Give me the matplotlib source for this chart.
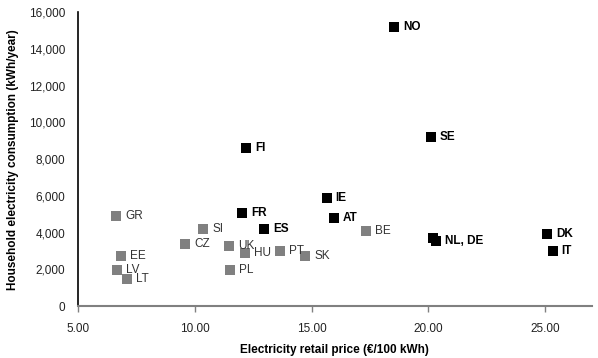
import matplotlib
matplotlib.use("Agg")
import matplotlib.pyplot as plt
from matplotlib.ticker import FuncFormatter

plt.rcParams['font.family'] = ['Liberation Sans', 'DejaVu Sans']

# Group 1 (black, bold labels)
black_names = ["NO", "SE", "FI", "IE", "FR", "AT", "ES", "NL", "DE", "DK", "IT"]
black_price = [18.52, 20.10, 12.19, 15.65, 12.02, 15.95, 12.96, 20.19, 20.32, 25.08, 25.31]
black_cons = [15200, 9230, 8600, 5900, 5080, 4800, 4200, 3730, 3560, 3900, 2980]
black_labels = ["NO", "SE", "FI", "IE", "FR", "AT", "ES", "", "NL, DE", "DK", "IT"]

# Group 2 (grey, normal labels)
grey_names = ["GR", "SI", "CZ", "UK", "HU", "PT", "SK", "BE", "EE", "LV", "LT", "PL"]
grey_price = [6.65, 10.36, 9.59, 11.47, 12.16, 13.64, 14.74, 17.32, 6.83, 6.68, 7.11, 11.50]
grey_cons = [4880, 4180, 3380, 3270, 2870, 2980, 2700, 4080, 2720, 1960, 1450, 1960]

x_ticks = [5, 10, 15, 20, 25]
y_ticks = [0, 2000, 4000, 6000, 8000, 10000, 12000, 14000, 16000]

fig = plt.figure(figsize=(5.98, 3.58), dpi=100)
ax = fig.add_axes([0.130, 0.145, 0.860, 0.821])

ax.scatter(grey_price, grey_cons, marker='s', s=52, color='#808080', zorder=3, linewidths=0)
ax.scatter(black_price, black_cons, marker='s', s=52, color='#000000', zorder=4, linewidths=0)

for x, y, t in zip(grey_price, grey_cons, grey_names):
    ax.annotate(t, (x, y), xytext=(6.5, 0), textcoords='offset points', va='center', ha='left',
                fontsize=8.5, color='#333333', zorder=5)
for x, y, t in zip(black_price, black_cons, black_labels):
    if t:
        ax.annotate(t, (x, y), xytext=(6.5, 0), textcoords='offset points', va='center', ha='left',
                    fontsize=8.5, color='#000000', fontweight='bold', zorder=5)

ax.set_xlim(5, 27)
ax.set_ylim(0, 16000)
ax.set_xticks(x_ticks)
ax.set_yticks(y_ticks)
ax.xaxis.set_major_formatter(FuncFormatter(lambda v, p: f"{v:.2f}"))
ax.yaxis.set_major_formatter(FuncFormatter(lambda v, p: f"{int(v):,}"))

for s in ['top', 'right']:
    ax.spines[s].set_visible(False)
ax.spines['left'].set_color('#000000')
ax.spines['bottom'].set_color('#808080')
ax.spines['left'].set_linewidth(1.2)
ax.spines['bottom'].set_linewidth(1.5)

ax.tick_params(axis='y', length=0, pad=9, labelsize=8.5, labelcolor='#222222')
ax.tick_params(axis='x', direction='out', length=4, width=1, color='#808080', pad=8,
               labelsize=8.5, labelcolor='#222222')

ax.set_xlabel("Electricity retail price (€/100 kWh)", fontsize=8.5, fontweight='bold', labelpad=7)
ax.set_ylabel("Household electricity consumption (kWh/year)", fontsize=8.5, fontweight='bold', labelpad=7)

fig.savefig("out.png", dpi=100)
